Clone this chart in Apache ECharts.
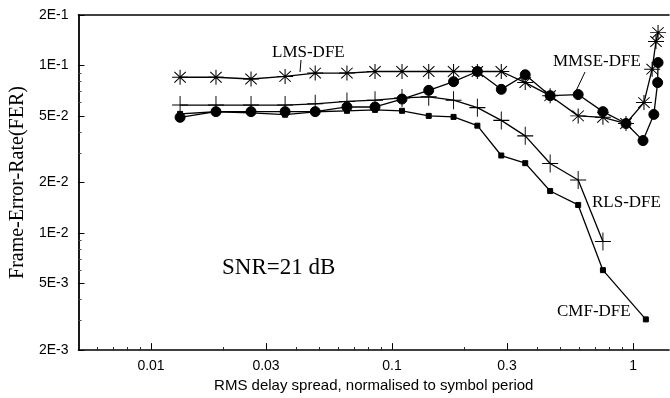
<!DOCTYPE html>
<html>
<head>
<meta charset="utf-8">
<script src="https://cdn.jsdelivr.net/npm/echarts@6/dist/echarts.min.js"></script>
<style>html,body{margin:0;padding:0;background:#fff}#c{width:670px;height:398px}</style>
</head>
<body>
<div id="c"></div>
<script>
// ---- data ----
const xTickValues = [0.01, 0.03, 0.1, 0.3, 1];
const xTickLabels = ['0.01', '0.03', '0.1', '0.3', '1'];
const xMinorTicks = [0.006, 0.007, 0.008, 0.009, 0.02, 0.04, 0.05, 0.06, 0.07, 0.08, 0.09, 0.2, 0.4, 0.5, 0.6, 0.7, 0.8, 0.9];
const yTickValues = [0.002, 0.005, 0.01, 0.02, 0.05, 0.1, 0.2];
const yTickLabels = ['2E-3', '5E-3', '1E-2', '2E-2', '5E-2', '1E-1', '2E-1'];
const yMinorTicks = [0.003, 0.004, 0.006, 0.007, 0.008, 0.009, 0.03, 0.04, 0.06, 0.07, 0.08, 0.09];

const lmsX = [0.0132, 0.0186, 0.026, 0.036, 0.048, 0.065, 0.085, 0.11, 0.142, 0.18, 0.226, 0.284, 0.357, 0.453, 0.592, 0.75, 0.935, 1.11, 1.2, 1.245, 1.27];
const lmsFER = [0.085, 0.085, 0.083, 0.086, 0.090, 0.090, 0.092, 0.092, 0.092, 0.092, 0.092, 0.092, 0.079, 0.066, 0.050, 0.049, 0.045, 0.060, 0.095, 0.139, 0.157];

const rlsX = [0.0132, 0.0186, 0.026, 0.036, 0.048, 0.065, 0.085, 0.11, 0.142, 0.18, 0.226, 0.284, 0.357, 0.453, 0.592, 0.75];
const rlsFER = [0.058, 0.058, 0.058, 0.058, 0.059, 0.061, 0.062, 0.064, 0.065, 0.062, 0.056, 0.047, 0.038, 0.026, 0.0207, 0.0089];

const mmseX = [0.0132, 0.0186, 0.026, 0.036, 0.048, 0.065, 0.085, 0.11, 0.142, 0.18, 0.226, 0.284, 0.357, 0.453, 0.592, 0.75, 0.935, 1.1, 1.22, 1.265, 1.27];
const mmseFER = [0.049, 0.053, 0.053, 0.053, 0.053, 0.0565, 0.0565, 0.063, 0.071, 0.080, 0.092, 0.072, 0.088, 0.066, 0.067, 0.053, 0.045, 0.0356, 0.051, 0.079, 0.104];

const cmfX = [0.0132, 0.0186, 0.026, 0.036, 0.048, 0.065, 0.085, 0.11, 0.142, 0.18, 0.226, 0.284, 0.357, 0.453, 0.592, 0.75, 1.13];
const cmfFER = [0.0514, 0.0529, 0.0521, 0.0508, 0.0529, 0.0536, 0.0543, 0.0536, 0.0500, 0.0493, 0.0437, 0.0290, 0.0261, 0.0178, 0.0147, 0.0060, 0.00305];

// ---- build ----
function zip(xs, ys) { return xs.map((x, i) => [x, ys[i]]); }
const SERIF = '"Liberation Serif", "DejaVu Serif", serif';
const SANS = '"Liberation Sans", Arial, sans-serif';
const XMIN = 0.005, XMAX = 1.41, YMIN = 0.002, YMAX = 0.2;

const asterisk = 'path://M8,0L8,16M0,8L16,8M2.3,2.3L13.7,13.7M2.3,13.7L13.7,2.3';
const plus = 'path://M8,0L8,18M0,9L16,9';

function lineSeries(name, data, symbol, size, z) {
  return {
    name, type: 'line', data, symbol, symbolSize: size, showSymbol: true,
    lineStyle: { color: '#000', width: 1.3 },
    itemStyle: { color: '#000', borderColor: '#000', borderWidth: 1 },
    z, animation: false, clip: false
  };
}

const chart = echarts.init(document.getElementById('c'), null, { renderer: 'canvas' });
const option = {
  backgroundColor: '#fff',
  animation: false,
  grid: { left: 77, right: 1, top: 15, bottom: 45 },
  xAxis: [
    {
      type: 'log', logBase: 10, min: XMIN, max: XMAX,
      name: 'RMS delay spread, normalised to symbol period',
      nameLocation: 'middle', nameGap: 25,
      nameTextStyle: { fontFamily: SANS, fontSize: 15, color: '#000' },
      axisLine: { show: true, onZero: false, lineStyle: { color: '#000', width: 1.6 } },
      axisTick: { show: true, inside: true, length: 7, customValues: xTickValues, lineStyle: { color: '#000', width: 1 } },
      axisLabel: {
        show: true, margin: 9, customValues: xTickValues, fontFamily: SANS, fontSize: 14, color: '#000',
        formatter: v => { const i = xTickValues.findIndex(t => Math.abs(t - v) < 1e-9); return i >= 0 ? xTickLabels[i] : ''; }
      },
      splitLine: { show: false }, minorTick: { show: false }
    },
    {
      type: 'log', logBase: 10, min: XMIN, max: XMAX, position: 'bottom', gridIndex: 0,
      axisLine: { show: false, onZero: false },
      axisTick: { show: true, inside: true, length: 3, customValues: xMinorTicks, lineStyle: { color: '#222', width: 1 } },
      axisLabel: { show: false }, splitLine: { show: false }
    },
    {
      type: 'log', logBase: 10, min: XMIN, max: XMAX, position: 'top', gridIndex: 0,
      axisLine: { show: true, onZero: false, lineStyle: { color: '#000', width: 1.6 } },
      axisTick: { show: false }, axisLabel: { show: false }, splitLine: { show: false }
    }
  ],
  yAxis: [
    {
      type: 'log', logBase: 10, min: YMIN, max: YMAX,
      name: 'Frame-Error-Rate(FER)',
      nameLocation: 'middle', nameGap: 46,
      nameTextStyle: { fontFamily: SERIF, fontSize: 20, color: '#000' },
      axisLine: { show: true, onZero: false, lineStyle: { color: '#000', width: 1.8 } },
      axisTick: { show: true, inside: true, length: 6, customValues: yTickValues, lineStyle: { color: '#000', width: 1 } },
      axisLabel: {
        show: true, margin: 10, customValues: yTickValues, fontFamily: SANS, fontSize: 14, color: '#000',
        formatter: v => { const i = yTickValues.findIndex(t => Math.abs(t - v) < 1e-12); return i >= 0 ? yTickLabels[i] : ''; }
      },
      splitLine: { show: false }, minorTick: { show: false }
    },
    {
      type: 'log', logBase: 10, min: YMIN, max: YMAX, position: 'left', gridIndex: 0,
      axisLine: { show: false, onZero: false },
      axisTick: { show: true, inside: true, length: 3, customValues: yMinorTicks, lineStyle: { color: '#444', width: 1 } },
      axisLabel: { show: false }, splitLine: { show: false }
    }
  ],
  series: [
    lineSeries('LMS-DFE', zip(lmsX, lmsFER), asterisk, [16, 15], 2),
    lineSeries('RLS-DFE', zip(rlsX, rlsFER), plus, [16, 18], 2),
    lineSeries('CMF-DFE', zip(cmfX, cmfFER), 'rect', 5, 3),
    lineSeries('MMSE-DFE', zip(mmseX, mmseFER), 'circle', 10, 4)
  ],
  graphic: [
    { type: 'text', x: 272, y: 53, style: { text: 'LMS-DFE', font: '17px ' + SERIF, fill: '#000', textVerticalAlign: 'middle' } },
    { type: 'line', shape: { x1: 301, y1: 60, x2: 300, y2: 72 }, style: { stroke: '#000', lineWidth: 1 } },
    { type: 'text', x: 553, y: 62, style: { text: 'MMSE-DFE', font: '17px ' + SERIF, fill: '#000', textVerticalAlign: 'middle' } },
    { type: 'line', shape: { x1: 585, y1: 72, x2: 576, y2: 91 }, style: { stroke: '#000', lineWidth: 1 } },
    { type: 'text', x: 592, y: 203, style: { text: 'RLS-DFE', font: '17px ' + SERIF, fill: '#000', textVerticalAlign: 'middle' } },
    { type: 'text', x: 557, y: 312, style: { text: 'CMF-DFE', font: '17px ' + SERIF, fill: '#000', textVerticalAlign: 'middle' } },
    { type: 'text', x: 222, y: 268, style: { text: 'SNR=21 dB', font: '23px ' + SERIF, fill: '#000', textVerticalAlign: 'middle' } }
  ]
};
chart.setOption(option);
</script>
</body>
</html>
